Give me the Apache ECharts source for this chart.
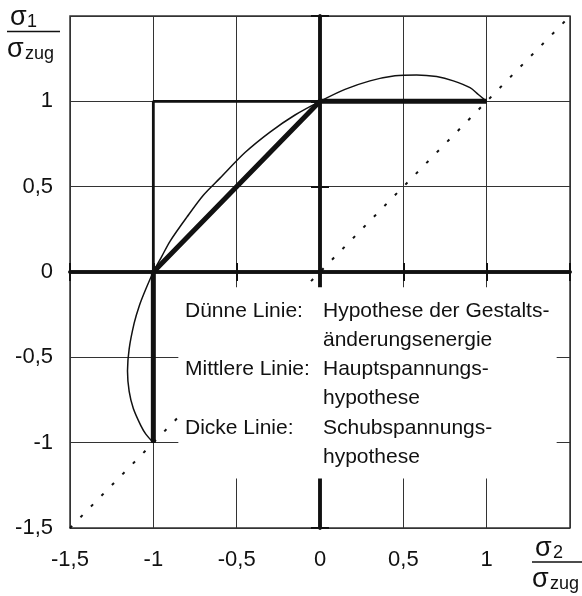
<!DOCTYPE html>
<html>
<head>
<meta charset="utf-8">
<script src="https://cdn.jsdelivr.net/npm/echarts@6/dist/echarts.min.js"></script>
<style>
  html, body { margin: 0; padding: 0; background: #fff; }
  #chart { width: 582px; height: 596px; }
</style>
</head>
<body>
<div id="chart"></div>
<script>
let diagonal = [[-1.5, -1.5], [1.5, 1.5]]
let gestalt = [
  [1, 1], [0.95, 1.04], [0.9, 1.08], [0.8, 1.12], [0.7, 1.145], [0.58, 1.155],
  [0.45, 1.15], [0.3, 1.12], [0.15, 1.07], [0, 1], [-0.15, 0.92], [-0.3, 0.82],
  [-0.45, 0.7], [-0.6, 0.55], [-0.7, 0.45], [-0.8, 0.32], [-0.9, 0.18], [-0.95, 0.09],
  [-1, 0], [-1.045, -0.1], [-1.085, -0.2], [-1.115, -0.3], [-1.145, -0.45], [-1.155, -0.58],
  [-1.145, -0.7], [-1.12, -0.8], [-1.075, -0.9], [-1.045, -0.95], [-1, -1]
]
let hauptspannung = [[-1, -1], [-1, 1], [1, 1]]
let schubspannung = [[1, 1], [0, 1], [-1, 0], [-1, -1]]
let boxArea = [[-0.85, -0.09], [1.42, -1.21]]
let legendKeys = ['Dünne Linie:', '', 'Mittlere Linie:', '', 'Dicke Linie:', '']
let legendTexts = ['Hypothese der Gestalts-', 'änderungsenergie', 'Hauptspannungs-', 'hypothese', 'Schubspannungs-', 'hypothese']

let font = "'Liberation Sans', Arial, sans-serif"
let ink = '#111'
let chart = echarts.init(document.getElementById('chart'))

let fmt = v => v === 1.5 ? '' : String(v).replace('.', ',')

let crossX = inside => ({
  type: 'value', min: -1.5, max: 1.5, interval: 0.5, position: 'bottom',
  axisLine: { show: true, onZero: true, onZeroAxisIndex: 0, lineStyle: { color: ink, width: 3.5 } },
  axisTick: { show: true, inside: inside, length: 9, lineStyle: { color: ink, width: 2 } },
  axisLabel: { show: false }, splitLine: { show: false },
})
let crossY = inside => ({
  type: 'value', min: -1.5, max: 1.5, interval: 0.5, position: 'left',
  axisLine: { show: true, onZero: true, onZeroAxisIndex: 0, lineStyle: { color: ink, width: 3.5 } },
  axisTick: { show: true, inside: inside, length: 9, lineStyle: { color: ink, width: 2 } },
  axisLabel: { show: false }, splitLine: { show: false },
})

let txt = (x, y, text, size) => ({
  type: 'text', x: x, y: y, z: 100,
  style: { text: text, font: size + 'px ' + font, fill: ink, verticalAlign: 'middle' },
})

let graphic = []
legendKeys.forEach((t, i) => {
  let y = 311 + i * 29.2
  if (t) graphic.push(txt(185, y, t, 21))
  graphic.push(txt(323, y, legendTexts[i], 21))
})
// Achsentitel als Brueche
graphic.push(
  txt(10, 18, 'σ', 27),
  txt(27, 22, '1', 18),
  { type: 'line', z: 100, shape: { x1: 7, y1: 31.5, x2: 60, y2: 31.5 }, style: { stroke: ink, lineWidth: 1.5 } },
  txt(7, 50, 'σ', 27),
  txt(25, 54, 'zug', 18),
  txt(535, 549, 'σ', 27),
  txt(553, 553, '2', 18),
  { type: 'line', z: 100, shape: { x1: 532, y1: 562, x2: 582, y2: 562 }, style: { stroke: ink, lineWidth: 1.5 } },
  txt(532, 580, 'σ', 27),
  txt(550, 584, 'zug', 18)
)

let options = {
  animation: false,
  backgroundColor: '#fff',
  grid: {
    left: 70, right: 12, top: 16, bottom: 68,
    show: true, borderColor: '#333', borderWidth: 1.5,
  },
  xAxis: [
    {
      type: 'value', min: -1.5, max: 1.5, interval: 0.5, position: 'bottom',
      axisLine: { show: false, onZero: false },
      axisTick: { show: false },
      axisLabel: { formatter: fmt, fontSize: 22, color: ink, fontFamily: font, margin: 21 },
      splitLine: { show: true, lineStyle: { color: '#333', width: 1 } },
    },
    crossX(true), crossX(false),
  ],
  yAxis: [
    {
      type: 'value', min: -1.5, max: 1.5, interval: 0.5, position: 'left',
      axisLine: { show: false, onZero: false },
      axisTick: { show: false },
      axisLabel: { formatter: fmt, fontSize: 22, color: ink, fontFamily: font, margin: 17 },
      splitLine: { show: true, lineStyle: { color: '#333', width: 1 } },
    },
    crossY(true), crossY(false),
  ],
  series: [
    {
      type: 'line', data: diagonal, symbol: 'none', z: 2,
      lineStyle: { color: ink, width: 2, type: [3, 12] },
    },
    {
      type: 'line', data: gestalt, symbol: 'none', smooth: 0.3, z: 2,
      lineStyle: { color: ink, width: 1.5 },
    },
    {
      type: 'line', data: hauptspannung, symbol: 'none', z: 2,
      lineStyle: { color: ink, width: 2.8 },
    },
    {
      type: 'line', data: schubspannung, symbol: 'none', z: 2,
      lineStyle: { color: ink, width: 5 },
    },
    {
      type: 'line', data: [[0, 0]], symbol: 'none', z: 3,
      lineStyle: { opacity: 0 },
      markArea: {
        silent: true, z: 10,
        itemStyle: { color: '#fff' },
        data: [[{ coord: boxArea[0] }, { coord: boxArea[1] }]],
      },
    },
  ],
  graphic: graphic,
}
chart.setOption(options)
</script>
</body>
</html>
